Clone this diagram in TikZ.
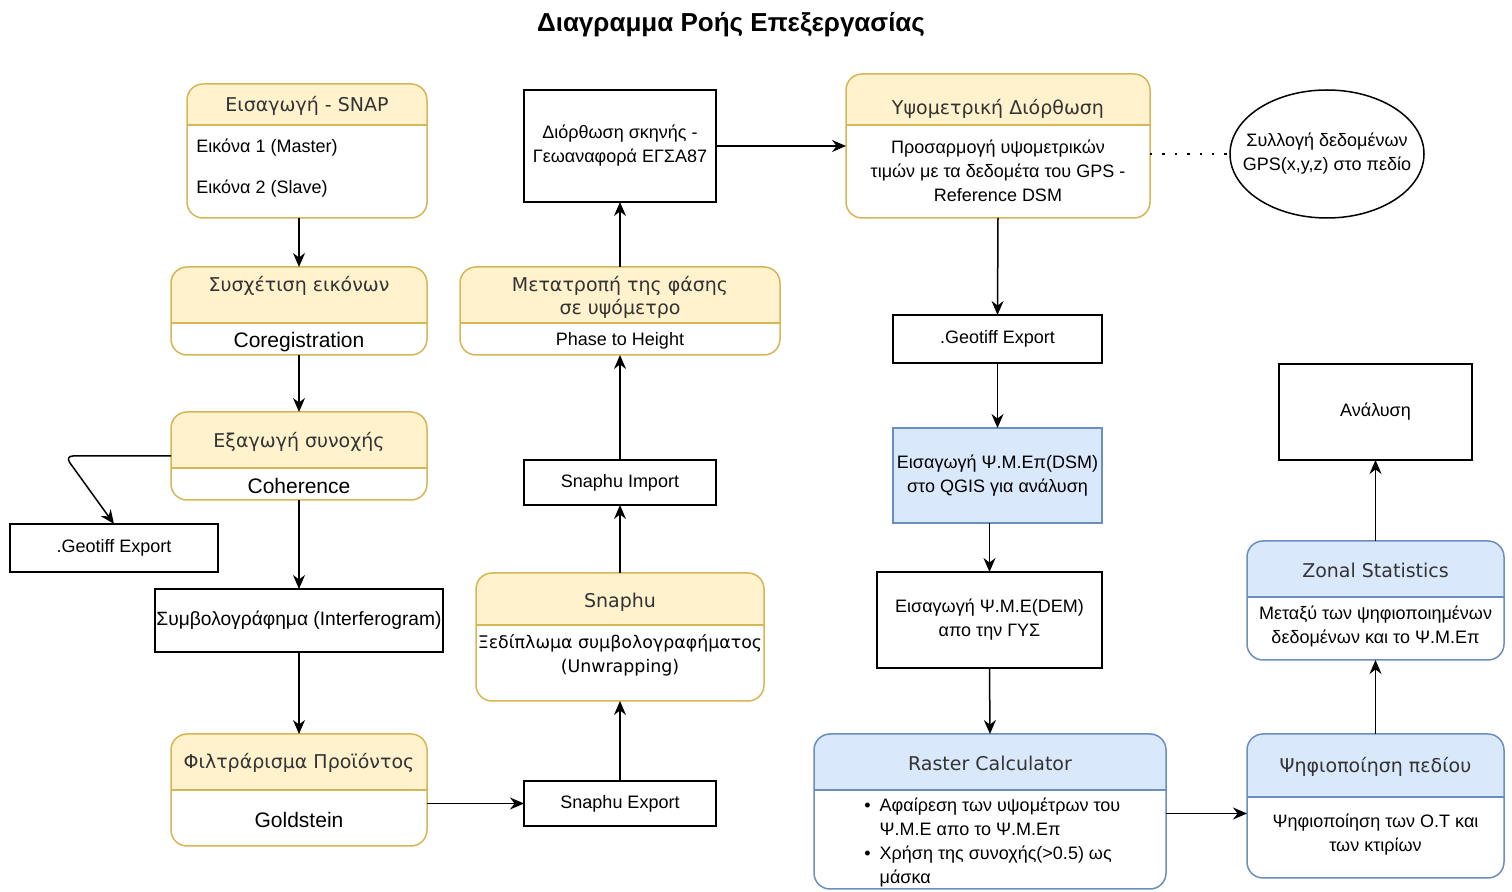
\documentclass[tikz,border=0pt]{standalone}
\usepackage{fontspec}
\setmainfont{Liberation Sans}
\newfontfamily\headfont{DejaVu Sans}
\usepackage{xcolor}
\usepackage{tikz}
\usetikzlibrary{arrows.meta,shapes.geometric}

\definecolor{yelfill}{HTML}{FFF2CC}
\definecolor{yelline}{HTML}{D6B656}
\definecolor{bluefill}{HTML}{DAE8FC}
\definecolor{blueline}{HTML}{6C8EBF}
\definecolor{headtext}{HTML}{333333}

\begin{document}
\begin{tikzpicture}[
  x=0.5pt, y=-0.5pt,
  font=\fontsize{9}{12}\selectfont,
  plain/.style={draw, line width=0.75pt, align=center, inner sep=1pt, outer sep=0pt},
  bluebox/.style={plain, draw=blueline, fill=bluefill},
  lane/.style n args={3}{draw=#2, fill=white, line width=0.75pt, rounded corners=8pt, inner sep=0pt, outer sep=0pt,
    path picture={\fill[#1, sharp corners] (path picture bounding box.north west) rectangle ([yshift=-#3]path picture bounding box.north east);
      \draw[#2, line width=0.75pt, sharp corners] ([yshift=-#3]path picture bounding box.north west) -- ([yshift=-#3]path picture bounding box.north east);}},
  yellane/.style={lane={yelfill}{yelline}{#1}},
  bluelane/.style={lane={bluefill}{blueline}{#1}},
  head/.style={font=\headfont\fontsize{9.5}{11.5}\selectfont, text=headtext, align=center, inner sep=0pt},
  body/.style={align=center, inner sep=0pt},
  big/.style={font=\fontsize{10.5}{12}\selectfont, inner sep=0pt},
  arrow/.style={-{Stealth[length=7pt, width=6pt]}, line width=0.75pt}
]
\useasboundingbox (0,0) rectangle (1512,892);

\node[font=\bfseries\fontsize{13}{15}\selectfont] (title) at (731,25) {Διαγραμμα Ροής Επεξεργασίας};

% column 1
\node[yellane=20.5pt, minimum width=120pt, minimum height=67pt] (snap) at (307,151) {};
\node[head] (snap-h) at (307,106) {Εισαγωγή - SNAP};
\node[body, anchor=west] (snap-b1) at (196,148) {Εικόνα 1 (Master)};
\node[body, anchor=west] (snap-b2) at (196,189) {Εικόνα 2 (Slave)};

\node[yellane=28pt, minimum width=128pt, minimum height=44pt] (coreg) at (299,311) {};
\node[head] (coreg-h) at (299,286) {Συσχέτιση εικόνων};
\node[big] (coreg-b) at (299,342) {Coregistration};

\node[yellane=28pt, minimum width=128pt, minimum height=44pt] (coher) at (299,456) {};
\node[head] (coher-h) at (299,442) {Εξαγωγή συνοχής};
\node[big] (coher-b) at (299,486) {Coherence};

\node[plain, minimum width=104pt, minimum height=24pt] (geo1) at (114,548) {.Geotiff Export};
\node[plain, minimum width=144pt, minimum height=31.5pt, inner sep=0pt, font=\fontsize{9.6}{12}\selectfont] (interf) at (299,620.5) {Συμβολογράφημα (Interferogram)};

\node[yellane=28pt, minimum width=128pt, minimum height=56pt] (filt) at (299,790) {};
\node[head] (filt-h) at (299,763) {Φιλτράρισμα Προϊόντος};
\node[big] (filt-b) at (299,820) {Goldstein};

% column 2
\node[plain, minimum width=96pt, minimum height=22.5pt] (snexp) at (620,803.5) {Snaphu Export};

\node[yellane=26pt, minimum width=144pt, minimum height=64pt] (snaphu) at (620,637) {};
\node[head] (snaphu-h) at (620,602) {Snaphu};
\node[head, font=\headfont\fontsize{8.7}{12}\selectfont, text=black] (snaphu-b) at (620,655) {Ξεδίπλωμα συμβολογραφήματος\\(Unwrapping)};

\node[plain, minimum width=96pt, minimum height=22.5pt] (snimp) at (620,482.5) {Snaphu Import};

\node[yellane=28pt, minimum width=160pt, minimum height=44pt] (ph2h) at (620,311) {};
\node[head] (ph2h-h) at (620,297) {Μετατροπή της φάσης\\σε υψόμετρο};
\node[body] (ph2h-b) at (620,341) {Phase to Height};

\node[plain, minimum width=96pt, minimum height=56pt] (terr) at (620,146) {Διόρθωση σκηνής -\\Γεωαναφορά ΕΓΣΑ87};

% column 3
\node[yellane=25.5pt, minimum width=152pt, minimum height=72pt] (vert) at (998,146) {};
\node[head] (vert-h) at (998,109) {Υψομετρική Διόρθωση};
\node[body] (vert-b) at (998,171) {Προσαρμογή υψομετρικών\\τιμών με τα δεδομέτα του GPS -\\Reference DSM};

\node[ellipse, draw, line width=0.75pt, minimum width=97pt, minimum height=64pt, inner sep=0pt] (gps) at (1327,154) {};
\node[body] (gps-t) at (1327,154) {Συλλογή δεδομένων\\GPS(x,y,z) στο πεδίο};

\node[plain, minimum width=104.5pt, minimum height=24pt] (geo2) at (997.5,339) {.Geotiff Export};
\node[bluebox, minimum width=104.5pt, minimum height=47.5pt, inner sep=0pt] (qgis) at (997.5,475.5) {Εισαγωγή Ψ.Μ.Επ(DSM)\\στο QGIS για ανάλυση};
\node[plain, minimum width=112.5pt, minimum height=48pt] (dem) at (989.5,620) {Εισαγωγή Ψ.Μ.Ε(DEM)\\απο την ΓΥΣ};

\node[bluelane=28pt, minimum width=176pt, minimum height=77.5pt] (raster) at (990,811.5) {};
\node[head] (raster-h) at (990,763) {Raster Calculator};
\node[body, align=left, anchor=north west] (raster-b) at (864,798) {\textbullet\hspace{4.5pt}Αφαίρεση των υψομέτρων του\\\phantom{\textbullet}\hspace{4.5pt}Ψ.Μ.Ε απο το Ψ.Μ.Επ\\\textbullet\hspace{4.5pt}Χρήση της συνοχής(>0.5) ως\\\phantom{\textbullet}\hspace{4.5pt}μάσκα};

% column 4
\node[bluelane=31.5pt, minimum width=128.5pt, minimum height=72pt] (digit) at (1375.5,806) {};
\node[head] (digit-h) at (1375.5,767) {Ψηφιοποίηση πεδίου};
\node[body] (digit-b) at (1375.5,835) {Ψηφιοποίηση των Ο.Τ και\\των κτιρίων};

\node[bluelane=28pt, minimum width=128.5pt, minimum height=59.5pt] (zonal) at (1375.5,600.5) {};
\node[head] (zonal-h) at (1375.5,570) {Zonal Statistics};
\node[body] (zonal-b) at (1375.5,626) {Μεταξύ των ψηφιοποιημένων\\δεδομένων και το Ψ.Μ.Επ};

\node[plain, minimum width=96.5pt, minimum height=48pt] (anal) at (1375.5,412) {Ανάλυση};

% connectors
\draw[arrow] (coreg.north |- snap.south) -- (coreg.north);
\draw[arrow] (coreg) -- (coher);
\draw[arrow] (coher) -- (interf);
\draw[arrow] (interf) -- (filt);
\draw[arrow, rounded corners=4pt] (coher.west) -- ++(-106,0) -- (geo1.north);
\draw[arrow] (filt.east |- snexp.west) -- (snexp.west);
\draw[arrow] (snexp) -- (snaphu);
\draw[arrow] (snaphu) -- (snimp);
\draw[arrow] (snimp) -- (ph2h);
\draw[arrow] (ph2h) -- (terr);
\draw[arrow] (terr.east) -- (vert.west);
\draw[line width=1.2pt, dash pattern=on 1.2pt off 5pt] (vert.east |- gps.west) -- (gps.west);
\draw[arrow] (vert.south) -- (geo2.north);
\draw[arrow] (geo2) -- (qgis);
\draw[arrow] (dem.north |- qgis.south) -- (dem.north);
\draw[arrow] (dem.south) -- (raster.north);
\draw[arrow] ([yshift=-1pt]raster.east) -- ([yshift=-1pt]raster.east -| digit.west);
\draw[arrow] (digit) -- (zonal);
\draw[arrow] (zonal) -- (anal);
\end{tikzpicture}
\end{document}
